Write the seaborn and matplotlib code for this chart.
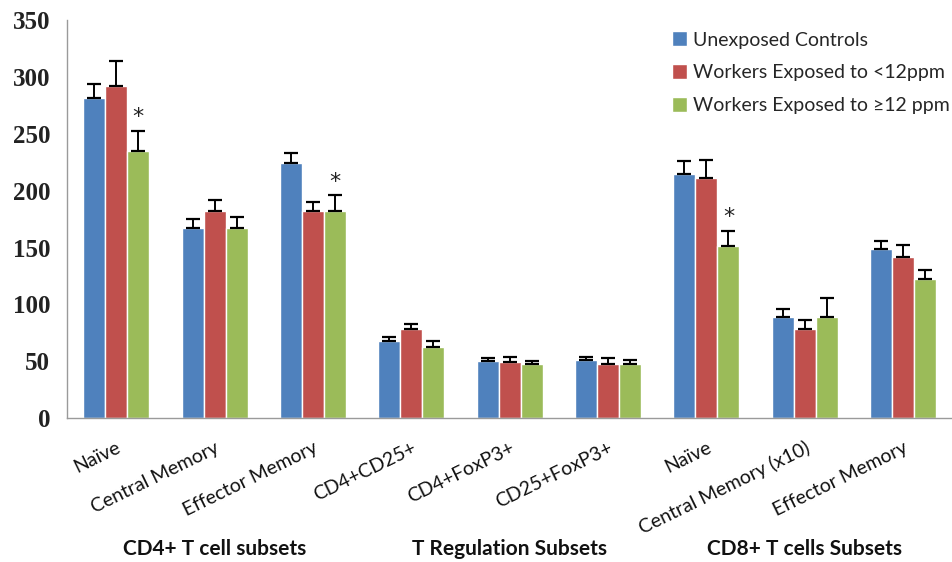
import numpy as np
import pandas as pd
import matplotlib.pyplot as plt
import seaborn as sns

categories = ["Naïve", "Central Memory", "Effector Memory",
              "CD4+CD25+", "CD4+FoxP3+", "CD25+FoxP3+",
              "Naïve ", "Central Memory (x10)", "Effector Memory "]
groups = ["Unexposed Controls", "Workers Exposed to <12ppm", "Workers Exposed to \u226512 ppm"]

unexposed = [282, 167, 224, 68, 50.5, 51.5, 215, 89, 149]
under12 = [292, 182, 182, 78, 49.5, 48, 211, 78, 142]
over12 = [235, 167, 182, 63, 47.5, 48, 151, 89, 122]

unexposed_err = [12, 8, 9, 3.5, 2.5, 2, 11, 7, 7]
under12_err = [22, 10, 8, 5, 4, 4.5, 16, 8, 10]
over12_err = [18, 10, 14, 4.5, 3, 3, 14, 17, 8]

significant = [0, 2, 6]  # green bars marked with *

section_labels = ["CD4+ T cell subsets", "T Regulation Subsets", "CD8+ T cells Subsets"]

colors = ["#4F81BD", "#C0504D", "#9BBB59"]

df = pd.DataFrame({
    "subset": categories * 3,
    "group": [g for g in groups for _ in categories],
    "value": unexposed + under12 + over12,
})
errs = [unexposed_err, under12_err, over12_err]
vals = [unexposed, under12, over12]

sns.set_style("white")
plt.rcParams['font.family'] = ['Lato', 'DejaVu Sans']

fig = plt.figure(figsize=(9.52, 5.62), dpi=100)
ax = fig.add_axes([0.0704, 0.256, 0.93, 0.708])

sns.barplot(data=df, x="subset", y="value", hue="group", palette=colors,
            width=0.67, saturation=1, ax=ax, legend=True)

for cont, e, v in zip(ax.containers, errs, vals):
    xs = [p.get_x() + p.get_width() / 2 for p in cont.patches]
    ax.errorbar(xs, v, yerr=[np.zeros(len(e)), e], fmt="none", ecolor="black",
                elinewidth=1.4, capsize=5, capthick=1.6)

green = ax.containers[2].patches
for i in significant:
    p = green[i]
    ax.text(p.get_x() + p.get_width() / 2, over12[i] + over12_err[i] + 3, "*",
            ha="center", va="bottom", fontsize=16, color="#222222",
            family="DejaVu Sans")

ax.set_ylim(0, 350)
ax.set_xlim(-0.5, 8.47)
ax.set_xlabel("")
ax.set_ylabel("")

for s in ["top", "right"]:
    ax.spines[s].set_visible(False)
for s in ["left", "bottom"]:
    ax.spines[s].set_color("#9a9a9a")
    ax.spines[s].set_linewidth(1)

ax.set_yticks(range(0, 351, 50))
ax.tick_params(axis="y", length=5, width=1, color="#9a9a9a", direction="out", pad=7)
for lab in ax.get_yticklabels():
    lab.set_fontfamily("Liberation Serif")
    lab.set_fontweight("bold")
    lab.set_fontsize(18)
    lab.set_color("#222222")

# category labels rotated, ticks at category boundaries
ax.set_xticks(range(len(categories)))
ax.set_xticklabels([c.strip() for c in categories], rotation=26, ha="right", va="top",
                   rotation_mode="anchor", fontsize=14, color="#111111")
ax.tick_params(axis="x", length=0, pad=15)
ax.set_xticks(np.arange(-0.5, len(categories), 1.0), minor=True)
ax.tick_params(axis="x", which="minor", length=7, width=1, color="#9a9a9a", direction="out")

for k, lbl in enumerate(section_labels):
    ax.text(3 * k + 1, -0.33, lbl, transform=ax.get_xaxis_transform(),
            ha="center", va="center", fontsize=15, fontweight="bold", color="#111111")

ax.legend(loc="upper left", bbox_to_anchor=(0.706, 0.944), bbox_transform=fig.transFigure,
          frameon=False, fontsize=14, handlelength=0.75, handleheight=0.8,
          handletextpad=0.3, labelspacing=0.8, borderaxespad=0, borderpad=0)

fig.savefig("out.png", dpi=100)
